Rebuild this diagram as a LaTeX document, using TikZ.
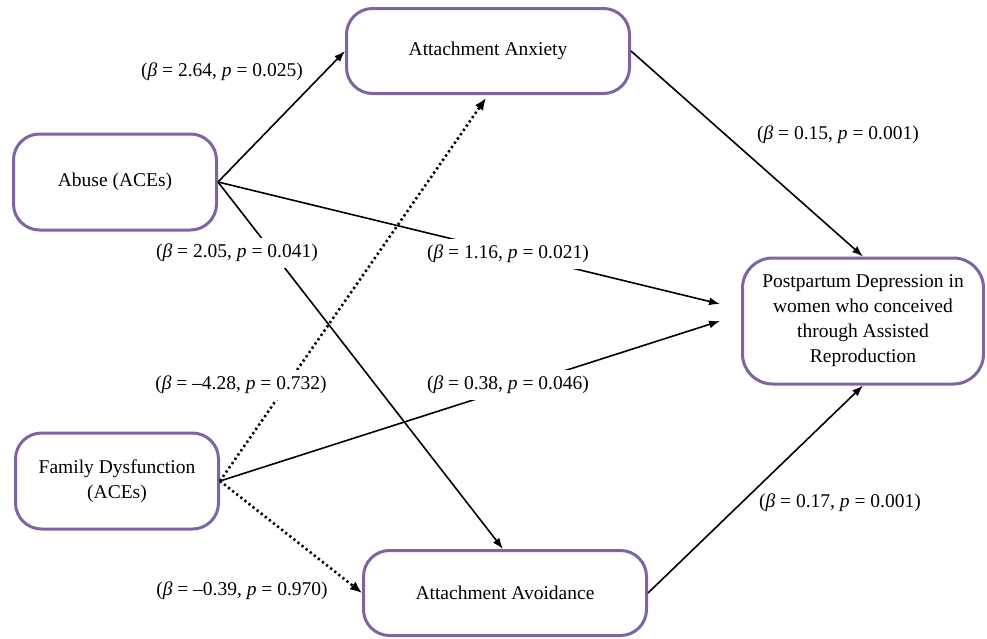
\documentclass[tikz,border=0pt]{standalone}
\usepackage{fontspec}
\setmainfont{Liberation Serif}
\usetikzlibrary{arrows.meta}
\definecolor{purp}{HTML}{8064A2}
\tikzset{
  boxnode/.style={draw=purp, line width=3pt, rounded corners=26pt, fill=white, align=center,
    font=\fontsize{19.5}{25}\selectfont, inner sep=2pt},
  lbl/.style={fill=white, inner xsep=4pt, inner ysep=6pt, font=\fontsize{19.5}{22}\selectfont},
  conn/.style={line width=1.6pt, -{Latex[length=11pt,width=8pt]}},
  dotconn/.style={line width=2.6pt, dash pattern=on 2.2pt off 3pt, -{Latex[length=12pt,width=10pt]}}
}
\begin{document}
\begin{tikzpicture}[x=1pt,y=-1pt]
\useasboundingbox (0,0) rectangle (987,638);
\node[boxnode, minimum width=203pt, minimum height=96pt] (abuse) at (115,182) {Abuse (ACEs)};
\node[boxnode, minimum width=203pt, minimum height=96pt] (fam) at (117,481) {Family Dysfunction\\(ACEs)};
\node[boxnode, minimum width=283pt, minimum height=85pt] (anx) at (488,51) {Attachment Anxiety};
\node[boxnode, minimum width=283pt, minimum height=85pt] (avo) at (505,593) {Attachment Avoidance};
\node[boxnode, minimum width=241pt, minimum height=126pt, rounded corners=30pt] (ppd) at (863,321) {Postpartum Depression in\\women who conceived\\through Assisted\\Reproduction};
\coordinate (p1) at (720,304);
\coordinate (p2) at (720,321);
\coordinate (anxb) at (486,98);
\coordinate (avot) at (503,549);

\draw[conn] (abuse.east) -- (anx.west);
\draw[conn] (abuse.east) -- (avot);
\draw[conn] (abuse.east) -- (p1);
\draw[dotconn] (fam.east) -- (anxb);
\draw[conn] (fam.east) -- (p2);
\draw[dotconn] (fam.east) -- (avo.west);
\draw[conn] (anx.east) -- (ppd.north);
\draw[conn] (avo.east) -- (ppd.south);

\node[lbl] (l1) at (222,72) {(\textit{β} = 2.64, \textit{p} = 0.025)};
\node[lbl] (l2) at (237,253) {(\textit{β} = 2.05, \textit{p} = 0.041)};
\node[lbl] (l3) at (508,254) {(\textit{β} = 1.16, \textit{p} = 0.021)};
\node[lbl] (l4) at (241,385) {(\textit{β} = –4.28, \textit{p} = 0.732)};
\node[lbl] (l5) at (508,385) {(\textit{β} = 0.38, \textit{p} = 0.046)};
\node[lbl] (l6) at (242,591) {(\textit{β} = –0.39, \textit{p} = 0.970)};
\node[lbl, fill=none] (l7) at (838,135) {(\textit{β} = 0.15, \textit{p} = 0.001)};
\node[lbl, fill=none] (l8) at (840,503) {(\textit{β} = 0.17, \textit{p} = 0.001)};
\end{tikzpicture}
\end{document}
